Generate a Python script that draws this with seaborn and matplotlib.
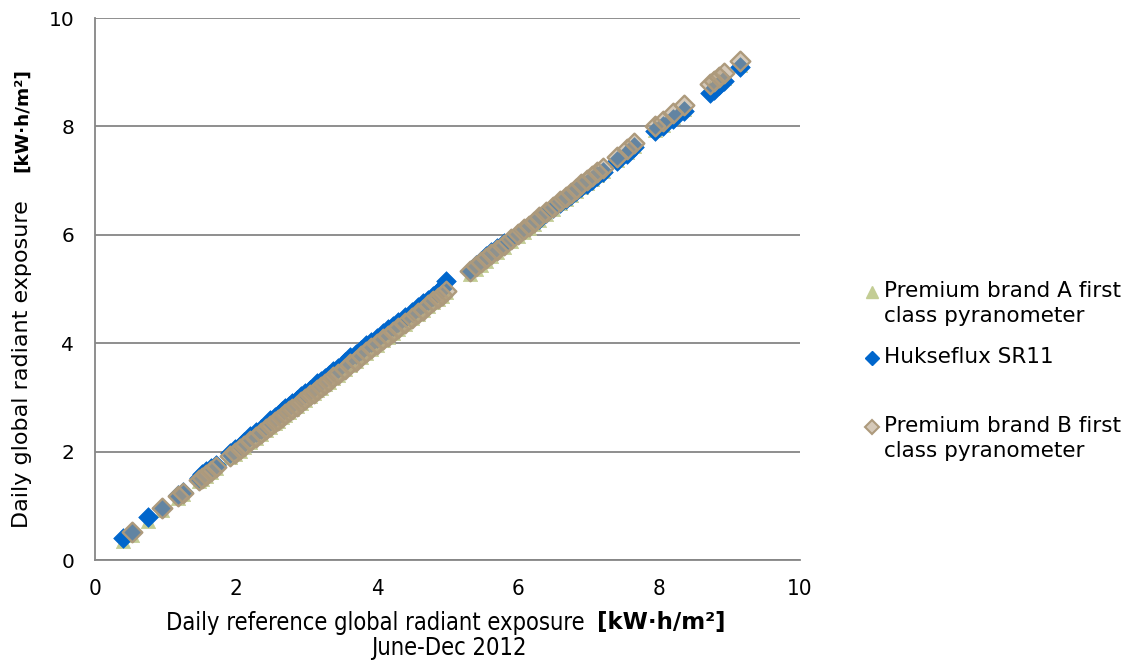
import numpy as np
import pandas as pd
import matplotlib
matplotlib.use("Agg")
import matplotlib.pyplot as plt
import seaborn as sns
from matplotlib.lines import Line2D

# Reference daily global radiant exposure [kW·h/m²]
x_ref = [0.40, 0.52, 0.75, 0.95, 1.18, 1.25, 1.48, 1.52, 1.58, 1.65, 1.72, 1.92, 1.98, 2.05,
         2.12, 2.20, 2.28, 2.35, 2.42, 2.48, 2.55, 2.60, 2.65, 2.70, 2.75, 2.80, 2.86, 2.92,
         2.98, 3.05, 3.10, 3.15, 3.20, 3.26, 3.32, 3.38, 3.45, 3.55, 3.62, 3.70, 3.78, 3.85,
         3.92, 4.00, 4.08, 4.15, 4.22, 4.30, 4.40, 4.50, 4.58, 4.65, 4.72, 4.80, 4.86, 4.92,
         4.98, 5.32, 5.40, 5.48, 5.55, 5.62, 5.70, 5.80, 5.90, 6.00, 6.08, 6.15, 6.22, 6.30,
         6.40, 6.50, 6.60, 6.68, 6.75, 6.82, 6.90, 6.98, 7.05, 7.12, 7.20, 7.40, 7.55, 7.65,
         7.95, 8.05, 8.20, 8.35, 8.72, 8.78, 8.85, 8.92, 9.15]

y_sr11 = [0.40, 0.52, 0.79, 0.96, 1.20, 1.25, 1.52, 1.58, 1.64, 1.70, 1.76, 1.98, 2.04, 2.10,
          2.18, 2.28, 2.36, 2.42, 2.50, 2.58, 2.64, 2.68, 2.74, 2.80, 2.85, 2.90, 2.96, 3.02,
          3.08, 3.14, 3.20, 3.26, 3.30, 3.36, 3.42, 3.48, 3.54, 3.66, 3.74, 3.80, 3.88, 3.96,
          4.02, 4.10, 4.18, 4.26, 4.32, 4.40, 4.48, 4.58, 4.66, 4.74, 4.80, 4.88, 4.94, 5.02,
          5.14, 5.34, 5.44, 5.52, 5.60, 5.68, 5.76, 5.84, 5.92, 6.02, 6.10, 6.16, 6.24, 6.30,
          6.40, 6.50, 6.58, 6.66, 6.74, 6.80, 6.88, 6.94, 7.02, 7.08, 7.16, 7.36, 7.50, 7.62,
          7.92, 8.00, 8.14, 8.28, 8.62, 8.68, 8.76, 8.84, 9.10]

y_brand_a = [0.35, 0.47, 0.72, 0.92, 1.15, 1.21, 1.46, 1.50, 1.55, 1.62, 1.69, 1.90, 1.96, 2.02,
             2.09, 2.18, 2.26, 2.32, 2.40, 2.46, 2.53, 2.57, 2.63, 2.68, 2.73, 2.78, 2.84, 2.90,
             2.96, 3.02, 3.08, 3.13, 3.18, 3.24, 3.29, 3.35, 3.42, 3.52, 3.60, 3.67, 3.75, 3.82,
             3.89, 3.97, 4.05, 4.12, 4.19, 4.27, 4.36, 4.46, 4.54, 4.61, 4.68, 4.76, 4.82, 4.88,
             4.95, 5.28, 5.37, 5.45, 5.52, 5.60, 5.68, 5.78, 5.88, 5.98, 6.06, 6.13, 6.20, 6.28,
             6.38, 6.48, 6.58, 6.66, 6.73, 6.80, 6.88, 6.96, 7.03, 7.10, 7.18, 7.38, 7.53, 7.63,
             7.93, 8.03, 8.18, 8.33, 8.70, 8.76, 8.84, 8.90, 9.13]

y_brand_b = [np.nan, 0.52, np.nan, 0.96, 1.18, 1.24, 1.48, 1.52, 1.57, 1.64, 1.71, 1.92, 1.98, 2.04,
             2.11, 2.19, 2.27, 2.34, 2.41, 2.47, 2.54, 2.59, 2.64, 2.69, 2.74, 2.79, 2.85, 2.91,
             2.97, 3.04, 3.09, 3.14, 3.19, 3.25, 3.31, 3.37, 3.44, 3.53, 3.61, 3.68, 3.76, 3.84,
             3.91, 3.99, 4.07, 4.14, 4.21, 4.28, 4.38, 4.47, 4.55, 4.62, 4.70, 4.77, 4.83, 4.89,
             4.96, 5.34, 5.42, 5.50, 5.57, 5.64, 5.72, 5.82, 5.92, 6.02, 6.10, 6.17, 6.24, 6.32,
             6.42, 6.52, 6.62, 6.70, 6.78, 6.85, 6.93, 7.02, 7.09, 7.16, 7.24, 7.44, 7.59, 7.69,
             8.00, 8.10, 8.24, 8.40, 8.78, 8.84, 8.91, 8.98, 9.20]

series_labels = ["Premium brand A first\nclass pyranometer",
                 "Hukseflux SR11",
                 "Premium brand B first\nclass pyranometer"]

x_ticks = [0, 2, 4, 6, 8, 10]
y_ticks = [0, 2, 4, 6, 8, 10]

c_a = "#c3cd94"
c_sr = "#0066cc"
c_b_edge = "#ad9a7c"
c_b_face = (0.70, 0.62, 0.50, 0.55)
grid_c = "#868686"

sns.set_style("white")
plt.rcParams['font.family'] = ['DejaVu Sans']
plt.rcParams['text.color'] = 'black'
plt.rcParams['xtick.color'] = 'black'
plt.rcParams['ytick.color'] = 'black'

narrow = dict(family=['DejaVu Sans'], fontstretch='condensed')

fig = plt.figure(figsize=(11.26, 6.62), dpi=100)
ax = fig.add_axes([95/1126, 1-560/662, 705/1126, 542/662])

df_a = pd.DataFrame({"x": x_ref, "y": y_brand_a})
df_s = pd.DataFrame({"x": x_ref, "y": y_sr11})
df_b = pd.DataFrame({"x": x_ref, "y": y_brand_b}).dropna()

sns.scatterplot(data=df_a, x="x", y="y", ax=ax, marker="^", s=105, color=c_a,
                edgecolor=c_a, linewidth=0.5, zorder=3)
sns.scatterplot(data=df_s, x="x", y="y", ax=ax, marker="D", s=100, color=c_sr,
                edgecolor=c_sr, linewidth=0.5, zorder=4)
sns.scatterplot(data=df_b, x="x", y="y", ax=ax, marker="D", s=100, facecolor=c_b_face,
                edgecolor=c_b_edge, linewidth=1.7, zorder=5)

ax.set_xlim(0, 10)
ax.set_ylim(0, 10)
ax.set_xticks(x_ticks)
ax.set_yticks(y_ticks)
ax.set_xlabel("")
ax.set_ylabel("")
ax.yaxis.grid(True, color=grid_c, linewidth=1.3)
ax.xaxis.grid(False)
ax.set_axisbelow(True)
for s in ["top", "right"]:
    ax.spines[s].set_visible(False)
for s in ["left", "bottom"]:
    ax.spines[s].set_color(grid_c)
    ax.spines[s].set_linewidth(1.3)
ax.tick_params(axis="x", direction="out", length=5, color=grid_c, width=1.3,
               labelsize=16, pad=9, labelcolor="black")
ax.tick_params(axis="y", direction="inout", length=8, color=grid_c, width=1.3,
               labelsize=14.5, pad=11, labelcolor="black")
for lab in ax.get_xticklabels():
    lab.set_fontstretch('condensed')

# x-axis title
fig.text(591/1126, 1-623/662, "Daily reference global radiant exposure ", ha="right",
         va="center", fontsize=17, **narrow)
fig.text(597/1126, 1-623/662, "[kW·h/m²]", ha="left", va="center",
         fontsize=16.5, fontweight="bold")
fig.text(449/1126, 1-648/662, "June-Dec 2012", ha="center", va="center",
         fontsize=17, **narrow)

# y-axis title
fig.text(22/1126, 1-528/662, "Daily global radiant exposure", rotation=90, ha="center",
         va="bottom", fontsize=16)
fig.text(22/1126, 1-68/662, "[kW·h/m²]", rotation=90, ha="center", va="top",
         fontsize=13.3, fontweight="bold")

# legend
leg_handles = [
    dict(marker="^", markersize=9, color=c_a),
    dict(marker="D", markersize=7, color=c_sr),
    dict(marker="D", markersize=7, markerfacecolor=c_b_face,
         markeredgecolor=c_b_edge, markeredgewidth=1.5),
]
leg_rows = [292, 358, 427]
for lab, hd, row in zip(series_labels, leg_handles, leg_rows):
    fig.add_artist(Line2D([872/1126], [1-row/662], transform=fig.transFigure,
                          linestyle="none", **hd))
    fig.text(884/1126, 1-(row-11)/662, lab, ha="left", va="top", fontsize=15.5,
             linespacing=1.3)

fig.savefig("out.png", dpi=100)
